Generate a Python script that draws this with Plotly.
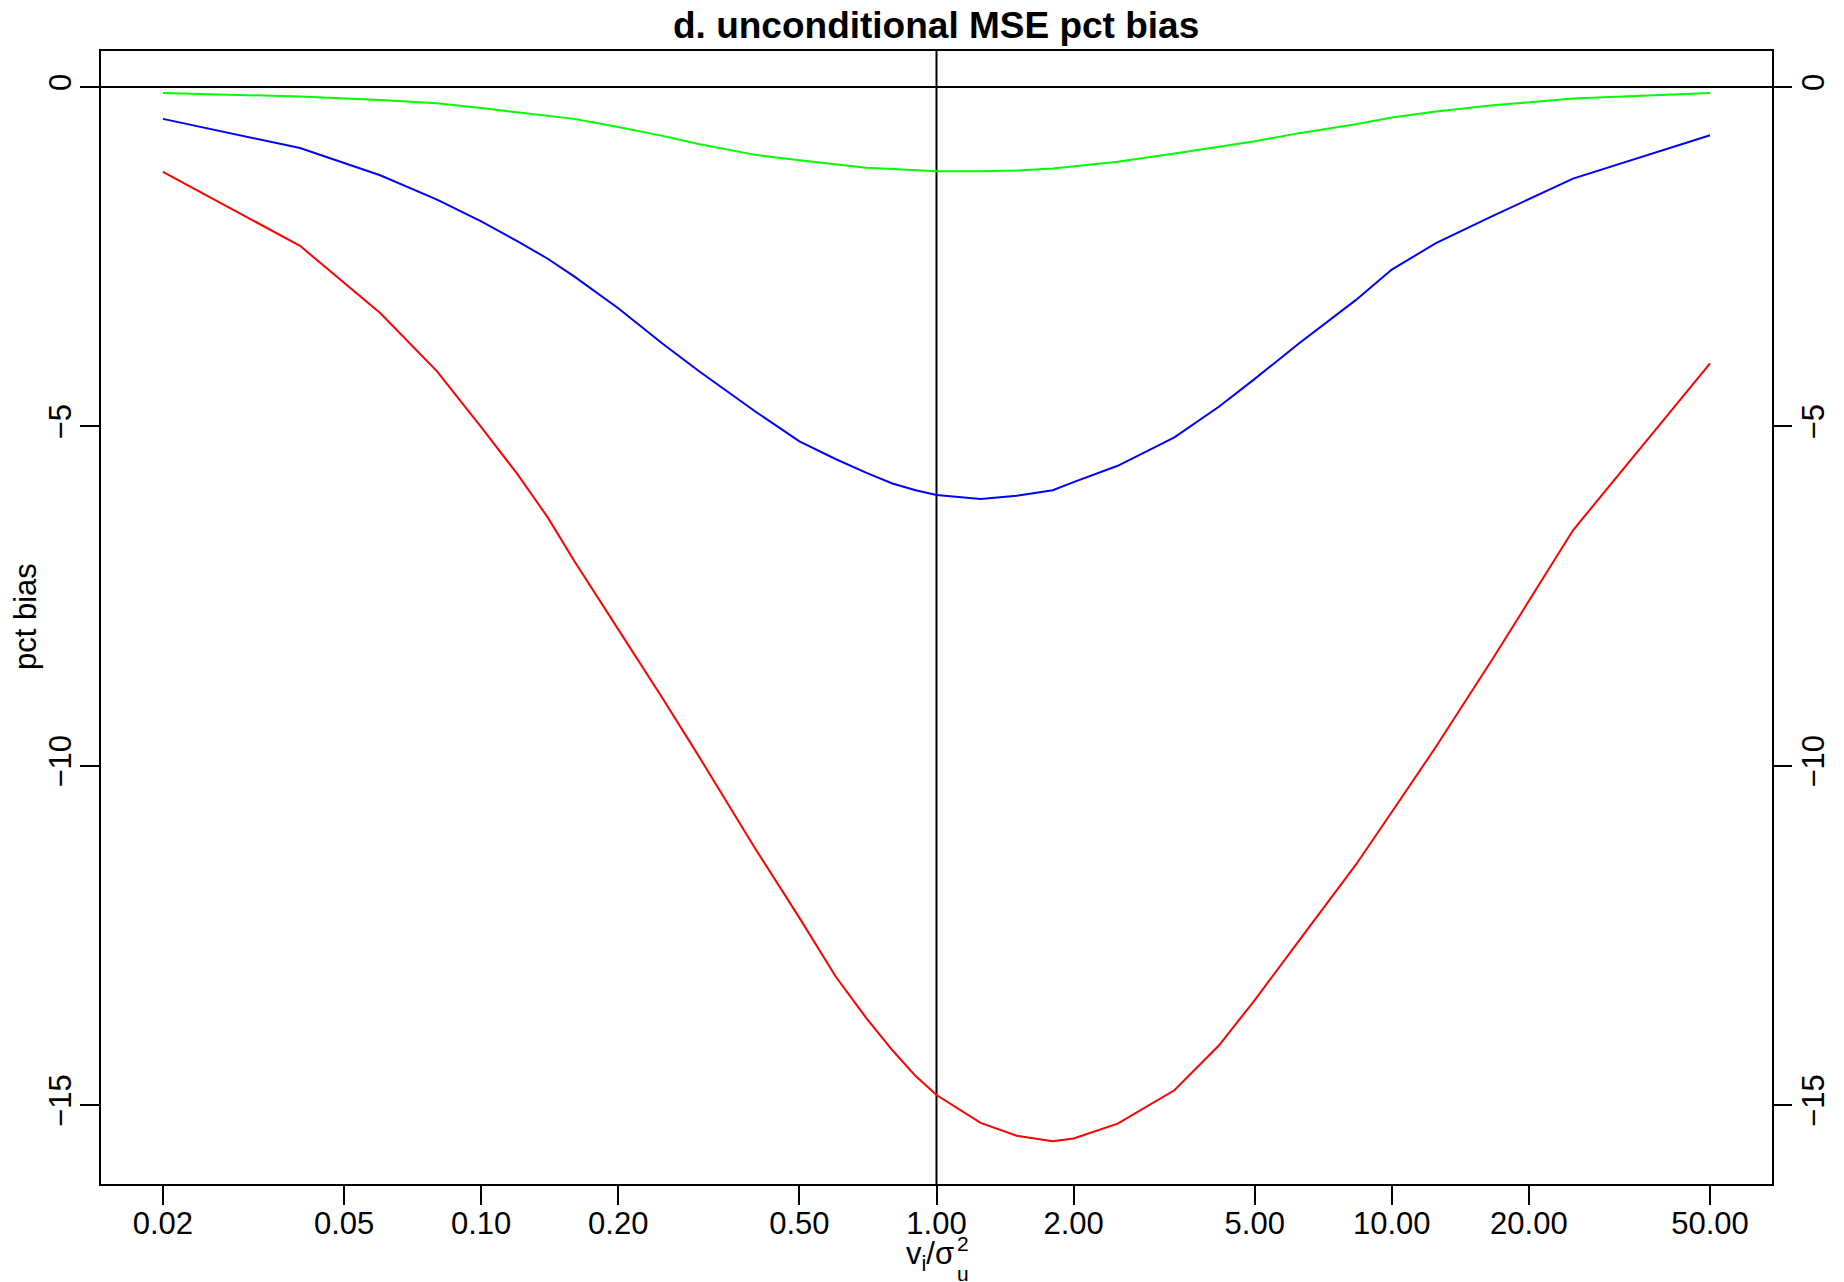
import plotly.graph_objects as go

# ---- data ----
x_vals = [0.02, 0.04, 0.06, 0.08, 0.10, 0.12, 0.14, 0.16, 0.20, 0.25, 0.30, 0.40, 0.50,
          0.60, 0.70, 0.80, 0.90, 1.00, 1.25, 1.50, 1.80, 2.00, 2.50, 3.33, 4.17, 5.00,
          6.25, 8.33, 10.0, 12.5, 16.67, 25.0, 50.0]
red = [-1.25, -2.34, -3.33, -4.19, -5.01, -5.70, -6.34, -6.98, -7.99, -9.00, -9.85, -11.22,
       -12.24, -13.10, -13.71, -14.19, -14.57, -14.85, -15.26, -15.45, -15.53, -15.49, -15.27,
       -14.78, -14.12, -13.45, -12.58, -11.46, -10.68, -9.72, -8.42, -6.53, -4.07]
blue = [-0.47, -0.90, -1.30, -1.66, -1.98, -2.27, -2.53, -2.79, -3.26, -3.78, -4.18, -4.78,
        -5.22, -5.48, -5.68, -5.84, -5.94, -6.01, -6.07, -6.02, -5.94, -5.82, -5.58, -5.16,
        -4.71, -4.30, -3.78, -3.14, -2.69, -2.30, -1.90, -1.35, -0.71]
green = [-0.09, -0.14, -0.19, -0.24, -0.31, -0.37, -0.42, -0.47, -0.59, -0.72, -0.84, -1.00,
         -1.08, -1.14, -1.19, -1.21, -1.23, -1.24, -1.24, -1.23, -1.20, -1.17, -1.10, -0.98,
         -0.88, -0.80, -0.68, -0.55, -0.45, -0.36, -0.27, -0.17, -0.09]

x_ticks = [0.02, 0.05, 0.10, 0.20, 0.50, 1.00, 2.00, 5.00, 10.00, 20.00, 50.00]
x_ticktext = ["0.02", "0.05", "0.10", "0.20", "0.50", "1.00", "2.00", "5.00", "10.00", "20.00", "50.00"]
y_ticks = [0, -5, -10, -15]
y_ticktext = ["0", "\u22125", "\u221210", "\u221215"]

title = "d. unconditional MSE pct bias"
y_title = "pct bias"

# ---- layout geometry (page pixel coords; body has an 8px margin) ----
W, H = 1844, 1282
OFF = 8
L, R, T, B = 101, 1772, 51, 1184
x_range_log = [-1.835, 1.835]
y_range = [-16.16, 0.53]
FONT = "Liberation Sans, Arial, Helvetica, sans-serif"
TICKF = 31

def px_x(X):
    return (X - L) / (R - L)

def px_y(Y):
    return (B - Y) / (B - T)

fig = go.Figure()

xr_lo, xr_hi = 10 ** x_range_log[0], 10 ** x_range_log[1]
# reference lines h=0, v=1
fig.add_trace(go.Scatter(x=[xr_lo, xr_hi], y=[0, 0], mode="lines",
                         line=dict(color="black", width=2), showlegend=False, hoverinfo="skip"))
fig.add_trace(go.Scatter(x=[1, 1], y=y_range, mode="lines",
                         line=dict(color="black", width=2), showlegend=False, hoverinfo="skip"))

for ys, col in [(green, "#00FF00"), (blue, "#0000FF"), (red, "#FF0000")]:
    fig.add_trace(go.Scatter(x=x_vals, y=ys, mode="lines",
                             line=dict(color=col, width=2), showlegend=False))

# invisible trace for right axis
fig.add_trace(go.Scatter(x=[1], y=[0], yaxis="y2", mode="markers",
                         marker=dict(opacity=0), showlegend=False, hoverinfo="skip"))

fig.update_layout(
    template="none",
    width=W, height=H,
    margin=dict(l=L - OFF, r=W - R + OFF, t=T - OFF, b=H - B + OFF, pad=0, autoexpand=False),
    paper_bgcolor="white", plot_bgcolor="white",
    font=dict(family=FONT, size=TICKF, color="black"),
    xaxis=dict(type="log", range=x_range_log, tickvals=x_ticks, ticktext=x_ticktext,
               ticks="outside", ticklen=19, tickwidth=2, tickcolor="black",
               showline=True, linecolor="black", linewidth=2, mirror=True, automargin=False,
               showgrid=False, zeroline=False, tickfont=dict(size=TICKF),
               ticklabelstandoff=-8),
    yaxis=dict(range=y_range, tickvals=y_ticks, ticktext=y_ticktext,
               ticks="outside", ticklen=19, tickwidth=2, tickcolor="black",
               showline=True, linecolor="black", linewidth=2, mirror=True, automargin=False,
               showgrid=False, zeroline=False, tickangle=-90, tickfont=dict(size=TICKF),
               ticklabelstandoff=-3),
    yaxis2=dict(range=y_range, tickvals=y_ticks, ticktext=y_ticktext, overlaying="y",
                side="right", ticks="outside", ticklen=19, tickwidth=2, tickcolor="black",
                showline=False, showgrid=False, zeroline=False, tickangle=-90, automargin=False,
                tickfont=dict(size=TICKF), ticklabelstandoff=-5),
)

ann = [
    dict(text="<b>" + title + "</b>", x=px_x(936), y=px_y(25), font=dict(size=37),
         xanchor="center", yanchor="middle", borderpad=0),
    dict(text=y_title, x=px_x(26), y=px_y(617), textangle=-90, font=dict(size=TICKF),
         xanchor="center", yanchor="middle"),
    dict(text="v<sub>i</sub>/σ", x=px_x(956), y=px_y(1256), font=dict(size=TICKF),
         xanchor="right", yanchor="middle"),
    dict(text="2", x=px_x(955), y=px_y(1243), font=dict(size=21),
         xanchor="left", yanchor="middle"),
    dict(text="u", x=px_x(955), y=px_y(1273), font=dict(size=21),
         xanchor="left", yanchor="middle"),
]
for a in ann:
    a.update(xref="paper", yref="paper", showarrow=False)
fig.update_layout(annotations=ann)

fig.write_html("out.html")
